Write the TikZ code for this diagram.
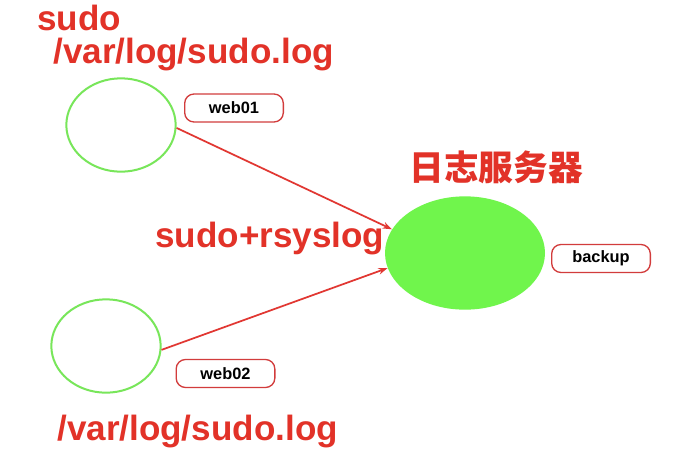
\documentclass[tikz,border=0pt]{standalone}
\usepackage{fontspec}
\setmainfont{Liberation Sans}
\newfontfamily\cjk{Noto Sans CJK SC}
\usetikzlibrary{shapes.geometric,arrows.meta}
\definecolor{txtred}{RGB}{226,50,40}
\definecolor{boxred}{RGB}{210,60,60}
\definecolor{ringgreen}{RGB}{120,230,90}
\definecolor{fillgreen}{RGB}{112,245,76}
\definecolor{arrred}{RGB}{225,55,50}
\tikzset{
  host/.style={ellipse,draw=ringgreen,line width=1.5pt,minimum width=82pt,minimum height=70pt,inner sep=0pt},
  server/.style={ellipse,fill=fillgreen,minimum width=120pt,minimum height=85pt,inner sep=0pt},
  tag/.style={rounded corners=7pt,draw=boxred,line width=1pt,minimum width=74pt,minimum height=21pt,inner sep=0pt,font=\fontsize{12.3}{14}\selectfont\bfseries,text=black},
  bigtxt/.style={inner sep=0pt,text=txtred,font=\fontsize{26.3}{30}\selectfont\bfseries},
  link/.style={draw=arrred,line width=1.3pt,-{Stealth[length=7pt,width=5pt]}}
}
\begin{document}
\begin{tikzpicture}[x=0.75pt,y=-0.75pt]
\useasboundingbox[fill=white] (0,0) rectangle (689,465);
\node[host] (w1) at (121,125) {};
\node[host] (w2) at (106,346) {};
\node[server] (srv) at (465,253) {};
\node[tag] (t1) at (234,108) {web01};
\node[tag] (t2) at (225.5,373.5) {web02};
\node[tag] (tb) at (601,258.5) {backup};
\node[bigtxt,anchor=base west,text depth=0pt] (s1) at (37,30) {sudo};
\node[bigtxt,anchor=base west,text height=18pt] (p1) at (53,63) {/var/log/sudo.log};
\node[bigtxt,anchor=base west] (rs) at (155,247) {sudo+rsyslog};
\node[bigtxt,anchor=base west] (p2) at (57,440) {/var/log/sudo.log};
\node[inner sep=0pt,text=txtred,font=\cjk\fontsize{26}{30}\selectfont\bfseries] (cn) at (496,167) {日志服务器};
\draw[link] (w1.-3) -- (srv.162);
\draw[link] (w2.-4) -- (srv.191);
\end{tikzpicture}
\end{document}
